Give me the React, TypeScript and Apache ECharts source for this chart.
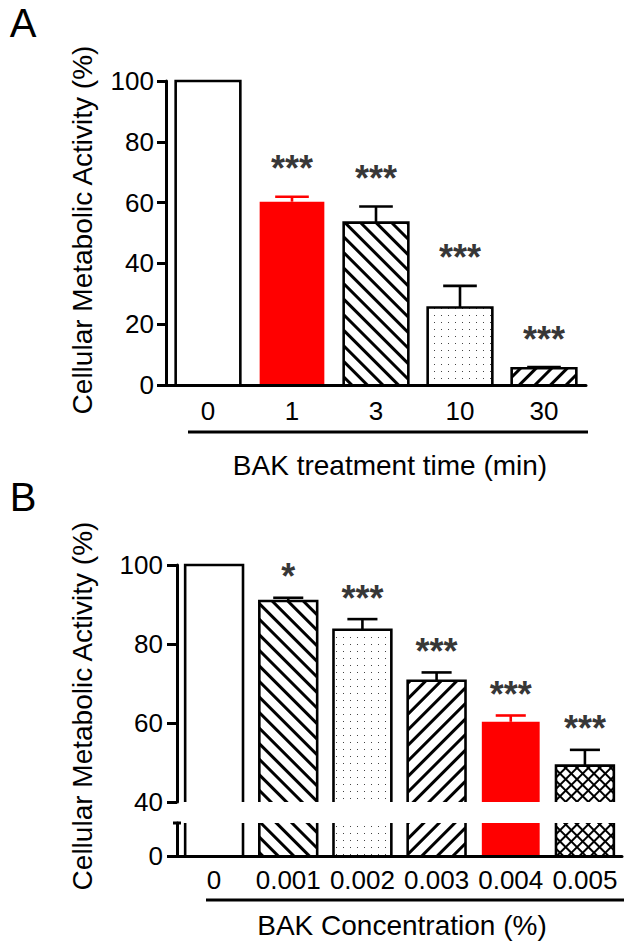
import React, { useEffect, useRef } from 'react';
import * as echarts from 'echarts';

// ---------- data ----------
const CATS_A = ['0', '1', '3', '10', '30'];
const VALUES_A = [100, 60.3, 53.4, 25.5, 5.5];
const ERRORS_A = [0, 1.6, 5.3, 7.1, 0.4];
const STARS_A = ['', '***', '***', '***', '***'];
const FILLS_A = ['white', 'red', 'backslash', 'dots', 'slash'];

const CATS_B = ['0', '0.001', '0.002', '0.003', '0.004', '0.005'];
const VALUES_B = [100, 90.9, 83.6, 70.7, 60.3, 49.2];
const ERRORS_B = [0, 0.8, 2.7, 2.1, 1.6, 4.0];
const STARS_B = ['', '*', '***', '***', '***', '***'];
const FILLS_B = ['white', 'backslash', 'dots', 'slash', 'red', 'cross'];

const Y_A = { min: 0, max: 100, interval: 20 };
const Y_B_UPPER = { min: 40, max: 100, interval: 20 };
const Y_B_LOWER = { min: 0, max: 8, ticks: [0] };

const TITLE_Y = 'Cellular Metabolic Activity (%)';
const TITLE_XA = 'BAK treatment time (min)';
const TITLE_XB = 'BAK Concentration (%)';

// ---------- styles ----------
const FONT = '"Liberation Sans", Arial, Helvetica, sans-serif';
const RED = '#ff0000';
const DECALS: any = {
  backslash: { symbol: 'rect', dashArrayX: [1, 0], dashArrayY: [3, 8], rotation: Math.PI / 4, color: '#000' },
  slash: { symbol: 'rect', dashArrayX: [1, 0], dashArrayY: [3, 8], rotation: -Math.PI / 4, color: '#000' },
  dots: { symbol: 'rect', dashArrayX: [1, 6], dashArrayY: [1, 6], color: '#444' },
  cross: { symbol: 'rect', dashArrayX: [6, 2], dashArrayY: [6, 2], rotation: Math.PI / 4, color: '#fff', backgroundColor: '#000' },
};

function itemStyleFor(fill: string) {
  if (fill === 'red') return { color: RED };
  if (fill === 'white') return { color: '#ffffff' };
  return { color: fill === 'cross' ? '#000' : '#ffffff', decal: DECALS[fill] };
}

function makeRender(fills: string[], ratio: number, drawErrors: boolean, drawBreakCap: boolean) {
  return (params: any, api: any) => {
    const cs = params.coordSys;
    const i = api.value(0);
    const v = api.value(1);
    const e = api.value(2);
    const band = cs.width / fills.length;
    const bw = band * ratio;
    const pt = api.coord([i, v]);
    const cx = pt[0];
    const cy = pt[1];
    const top = cs.y;
    const bottom = cs.y + cs.height;
    const left = cx - bw / 2;
    const right = cx + bw / 2;
    const children: any[] = [];
    const red = fills[i] === 'red';
    const lw = 2.6;
    if (!red) {
      if (cy >= top) {
        children.push({
          type: 'polyline',
          shape: { points: [[left, bottom], [left, cy], [right, cy], [right, bottom]] },
          style: { stroke: '#000', fill: 'none', lineWidth: lw },
        });
      } else {
        children.push({ type: 'line', shape: { x1: left, y1: top, x2: left, y2: bottom }, style: { stroke: '#000', lineWidth: lw } });
        children.push({ type: 'line', shape: { x1: right, y1: top, x2: right, y2: bottom }, style: { stroke: '#000', lineWidth: lw } });
      }
    }
    if (drawErrors && e > 0 && cy >= top) {
      const ey = api.coord([i, v + e])[1];
      const color = red ? RED : '#000';
      const half = bw * 0.26;
      children.push({ type: 'line', shape: { x1: cx, y1: cy, x2: cx, y2: ey }, style: { stroke: color, lineWidth: lw } });
      children.push({ type: 'line', shape: { x1: cx - half, y1: ey, x2: cx + half, y2: ey }, style: { stroke: color, lineWidth: lw } });
    }
    if (drawBreakCap && params.dataIndex === 0) {
      children.push({ type: 'line', shape: { x1: cs.x - 4, y1: top, x2: cs.x + 4, y2: top }, style: { stroke: '#000', lineWidth: 3 } });
    }
    return { type: 'group', children };
  };
}

const axisLine = { show: true, lineStyle: { color: '#000', width: 3 } };
const tickLabel = { color: '#000', fontSize: 26, fontFamily: FONT };

function text(x: number, y: number, str: string, size: number, rotation = 0) {
  return {
    type: 'text',
    x,
    y,
    rotation,
    style: {
      text: str,
      fill: '#000',
      font: `${size}px ${FONT}`,
      align: 'center',
      verticalAlign: 'middle',
      textAlign: 'center',
      textVerticalAlign: 'middle',
    },
  };
}

function line(x1: number, y1: number, x2: number, y2: number) {
  return { type: 'line', shape: { x1, y1, x2, y2 }, style: { stroke: '#000', lineWidth: 3 } };
}

export default function App() {
  const ref = useRef<HTMLDivElement>(null);
  useEffect(() => {
    if (!ref.current) return;
    const chart = echarts.init(ref.current, null, { renderer: 'svg' });
    const starLabel = (stars: string[], dist: number) => ({
      show: true,
      position: 'top',
      distance: dist,
      formatter: (p: any) => stars[p.dataIndex],
      color: '#000',
      fontSize: 36,
      fontWeight: 'bold',
      fontFamily: FONT,
    });
    const option: any = {
      animation: false,
      backgroundColor: '#fff',
      textStyle: { fontFamily: FONT },
      grid: [
        { left: 166, top: 81, width: 420, height: 304 },
        { left: 177, top: 565, width: 445, height: 237 },
        { left: 177, top: 823, width: 445, height: 33 },
      ],
      xAxis: [
        { gridIndex: 0, type: 'category', data: CATS_A, z: 10, axisLine, axisTick: { show: false }, axisLabel: { ...tickLabel, margin: 13, interval: 0 } },
        { gridIndex: 1, type: 'category', data: CATS_B, show: false },
        { gridIndex: 2, type: 'category', data: CATS_B, z: 10, axisLine, axisTick: { show: false }, axisLabel: { ...tickLabel, margin: 11, interval: 0 } },
      ],
      yAxis: [
        {
          gridIndex: 0, type: 'value', min: Y_A.min, max: Y_A.max, interval: Y_A.interval, z: 10,
          axisLine, axisTick: { show: true, length: 9, lineStyle: { color: '#000', width: 3 } },
          axisLabel: { ...tickLabel, margin: 12 }, splitLine: { show: false },
        },
        {
          gridIndex: 1, type: 'value', min: Y_B_UPPER.min, max: Y_B_UPPER.max, interval: Y_B_UPPER.interval, z: 10,
          axisLine, axisTick: { show: true, length: 10, lineStyle: { color: '#000', width: 3 } },
          axisLabel: { ...tickLabel, margin: 14 }, splitLine: { show: false },
        },
        {
          gridIndex: 2, type: 'value', min: Y_B_LOWER.min, max: Y_B_LOWER.max, z: 10,
          axisLine, axisTick: { show: true, length: 10, customValues: Y_B_LOWER.ticks, lineStyle: { color: '#000', width: 3 } },
          axisLabel: { ...tickLabel, margin: 14, customValues: Y_B_LOWER.ticks }, splitLine: { show: false },
        },
      ],
      series: [
        {
          type: 'bar', xAxisIndex: 0, yAxisIndex: 0, barWidth: '77%', silent: true,
          data: VALUES_A.map((v, i) => ({ value: v, itemStyle: itemStyleFor(FILLS_A[i]) })),
        },
        {
          type: 'custom', xAxisIndex: 0, yAxisIndex: 0, z: 3, silent: true,
          renderItem: makeRender(FILLS_A, 0.77, true, false),
          data: VALUES_A.map((v, i) => [i, v, ERRORS_A[i]]),
        },
        {
          type: 'scatter', xAxisIndex: 0, yAxisIndex: 0, symbolSize: 0, silent: true,
          label: starLabel(STARS_A, 10),
          data: VALUES_A.map((v, i) => [i, v + ERRORS_A[i]]),
        },
        {
          type: 'bar', xAxisIndex: 1, yAxisIndex: 1, barWidth: '78%', silent: true,
          data: VALUES_B.map((v, i) => ({ value: v, itemStyle: itemStyleFor(FILLS_B[i]) })),
        },
        {
          type: 'custom', xAxisIndex: 1, yAxisIndex: 1, z: 3, silent: true,
          renderItem: makeRender(FILLS_B, 0.78, true, false),
          data: VALUES_B.map((v, i) => [i, v, ERRORS_B[i]]),
        },
        {
          type: 'scatter', xAxisIndex: 1, yAxisIndex: 1, symbolSize: 0, silent: true,
          label: starLabel(STARS_B, 3),
          data: VALUES_B.map((v, i) => [i, v + ERRORS_B[i]]),
        },
        {
          type: 'bar', xAxisIndex: 2, yAxisIndex: 2, barWidth: '78%', silent: true,
          data: VALUES_B.map((v, i) => ({ value: v, itemStyle: itemStyleFor(FILLS_B[i]) })),
        },
        {
          type: 'custom', xAxisIndex: 2, yAxisIndex: 2, z: 3, silent: true,
          renderItem: makeRender(FILLS_B, 0.78, false, true),
          data: VALUES_B.map((v, i) => [i, v, ERRORS_B[i]]),
        },
      ],
      graphic: [
        text(23, 23, 'A', 40),
        text(23, 497, 'B', 40),
        text(82.5, 230, TITLE_Y, 28, Math.PI / 2),
        text(82.5, 706, TITLE_Y, 28, Math.PI / 2),
        line(188, 432, 588, 432),
        text(390, 465, TITLE_XA, 28),
        line(206, 900, 624, 900),
        text(402, 925, TITLE_XB, 28),
      ],
    };
    chart.setOption(option);
    return () => chart.dispose();
  }, []);
  return (
    <div
      ref={ref}
      style={{ position: 'fixed', left: 0, top: 0, width: 635, height: 949, background: '#fff' }}
    />
  );
}
